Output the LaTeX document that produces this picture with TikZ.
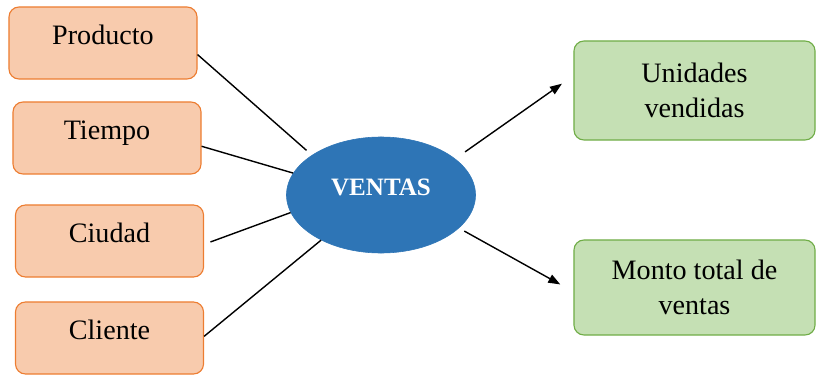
\documentclass[tikz,border=0pt]{standalone}
\usepackage{fontspec}
\setmainfont{LiberationSerif}[Extension=.ttf, UprightFont=*-Regular, BoldFont=*-Bold, ItalicFont=*-Italic, BoldItalicFont=*-BoldItalic]
\usetikzlibrary{arrows.meta, shapes.geometric}
\definecolor{naranjaF}{HTML}{F8CBAD}
\definecolor{naranjaB}{HTML}{ED7D31}
\definecolor{verdeF}{HTML}{C5E0B4}
\definecolor{verdeB}{HTML}{70AD47}
\definecolor{azul}{HTML}{2E75B6}
\tikzset{
    factor/.style={
        draw=naranjaB, fill=naranjaF, line width=0.8pt, rounded corners=0.25cm,
        minimum width=4.7cm, inner ysep=0pt, text height=0.925cm, text depth=0.875cm,
        font=\fontsize{20}{25}\selectfont
    },
    medida/.style={
        draw=verdeB, fill=verdeF, line width=0.8pt, rounded corners=0.25cm,
        minimum width=6.025cm, minimum height=#1, align=center,
        font=\fontsize{20}{25}\selectfont
    },
    medida/.default={2.45cm},
    liga/.style={line width=1pt},
    flecha/.style={line width=1pt, -{Triangle[length=0.3cm, width=0.22cm]}}
}
\begin{document}
\begin{tikzpicture}[x=0.025cm, y=-0.025cm]
    \useasboundingbox (0,0) rectangle (816,375);
    % dimensiones
    \node[factor] (prod) at (103,43) {Producto};
    \node[factor] (tiempo) at (107,138) {Tiempo};
    \node[factor] (ciudad) at (109.5,241) {Ciudad};
    \node[factor] (cliente) at (109.5,338) {Cliente};
    % hecho
    \node[ellipse, fill=azul, draw=azul, minimum width=4.725cm, minimum height=2.9cm,
        inner sep=0pt, text height=0.35cm, text depth=0.35cm, text=white,
        font=\fontsize{17.8}{20}\selectfont\bfseries] (ventas) at (381,195) {VENTAS};
    % medidas
    \node[medida=2.475cm] (unid) at (694.5,90.5) {Unidades\\vendidas};
    \node[medida=2.375cm] (monto) at (694.5,287.5) {Monto total de\\ventas};
    \draw[liga, shorten >=0.18cm] (prod.-7) -- (ventas.150);
    \draw[liga] (tiempo.-5) -- (ventas.166);
    \draw[liga, shorten <=0.17cm] (ciudad.-2) -- (ventas.191);
    \draw[liga] (cliente.1) -- (ventas.217);
    \draw[flecha, shorten <=0.3cm, shorten >=0.35cm] (ventas.26) -- (unid.173);
    \draw[flecha, shorten <=0.15cm, shorten >=0.375cm] (ventas.-23) -- (monto.182);
\end{tikzpicture}
\end{document}
